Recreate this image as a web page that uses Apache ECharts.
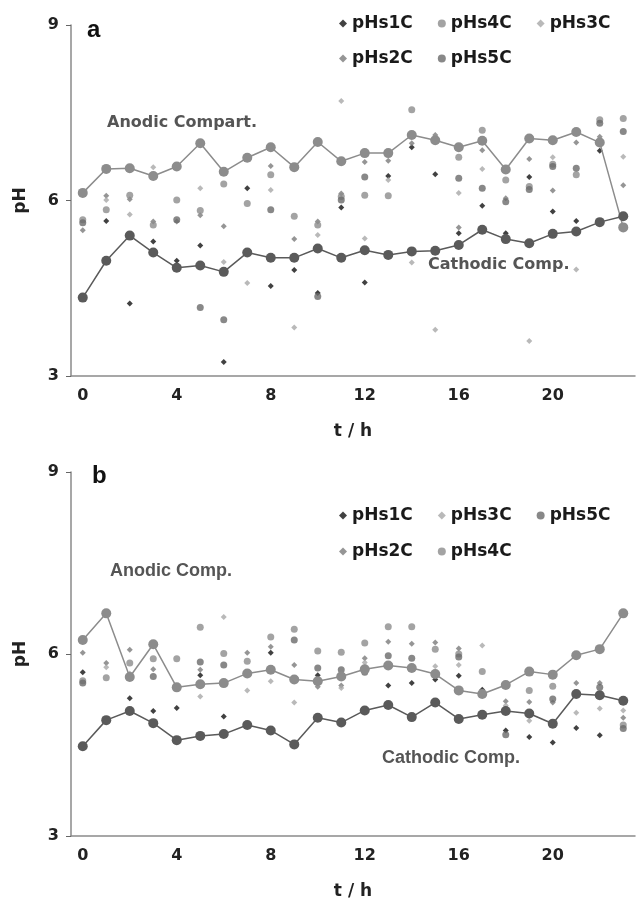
<!DOCTYPE html>
<html>
<head>
<meta charset="utf-8">
<script src="https://cdn.jsdelivr.net/npm/echarts@6/dist/echarts.min.js"></script>
<style>
html,body{margin:0;padding:0;background:#fff;}
#c{width:637px;height:901px;}
</style>
</head>
<body>
<div id="c"></div>
<script>
// ---------- DATA ----------
const hours = ['0','1','2','3','4','5','6','7','8','9','10','11','12','13','14','15','16','17','18','19','20','21','22','23'];
const yTicks = [3, 6, 9];

// Panel a
const a_anodic   = [6.13,6.54,6.55,6.42,6.58,6.98,6.49,6.73,6.91,6.57,7.00,6.67,6.81,6.81,7.12,7.03,6.91,7.02,6.53,7.06,7.03,7.17,6.99,5.54];
const a_cathodic = [4.34,4.97,5.40,5.11,4.85,4.89,4.78,5.11,5.02,5.02,5.18,5.02,5.15,5.07,5.13,5.14,5.24,5.50,5.34,5.27,5.43,5.47,5.63,5.73];
const a_pHs1C = [null,5.65,4.24,5.30,4.97,5.23,3.24,6.21,4.54,4.81,4.42,5.88,4.60,6.42,6.91,6.45,5.44,5.91,5.44,6.40,5.81,5.65,6.85,null];
const a_pHs2C = [5.49,6.08,6.02,5.64,5.64,5.75,5.56,null,6.59,5.34,5.64,6.12,6.66,6.68,6.98,7.12,5.54,6.86,6.04,6.71,6.17,6.99,7.09,6.26];
const a_pHs3C = [null,6.01,5.76,6.57,null,6.21,4.95,4.59,6.18,3.83,5.41,7.70,5.35,6.35,4.94,3.79,6.13,6.54,null,3.60,6.74,4.82,null,6.75];
const a_pHs4C = [5.67,5.84,6.09,5.58,6.01,5.83,6.28,5.95,6.44,5.73,5.58,6.07,6.09,6.08,7.55,null,6.74,7.20,6.35,6.24,6.62,6.44,7.38,7.40];
const a_pHs5C = [5.62,null,null,null,5.67,4.17,3.96,null,5.84,null,4.36,6.01,6.40,null,null,null,6.38,6.21,5.98,6.19,6.58,6.55,7.32,7.18];

// Panel b
const b_anodic   = [6.23,6.67,5.62,6.16,5.45,5.50,5.52,5.68,5.74,5.58,5.55,5.63,5.75,5.81,5.77,5.67,5.40,5.34,5.49,5.71,5.66,5.98,6.08,6.67];
const b_cathodic = [4.48,4.91,5.06,4.86,4.58,4.65,4.68,4.83,4.74,4.51,4.95,4.87,5.07,5.16,4.96,5.20,4.93,5.00,5.06,5.02,4.85,5.34,5.32,5.23];
const b_pHs1C = [5.70,null,5.27,5.06,5.11,5.65,4.97,null,6.02,null,5.65,null,null,5.48,5.52,5.58,5.64,5.41,4.74,4.63,4.54,4.78,4.66,null];
const b_pHs2C = [6.02,5.85,6.07,5.75,null,5.74,null,6.02,6.12,5.82,5.46,5.48,5.93,6.20,6.17,6.19,6.09,null,5.22,5.21,5.20,5.52,5.52,4.95];
const b_pHs3C = [null,5.78,5.68,null,null,5.30,6.61,5.40,5.55,5.20,null,5.44,5.86,null,null,5.80,5.82,6.14,5.15,4.90,null,5.03,5.10,5.07];
const b_pHs4C = [5.56,5.61,5.85,5.92,5.92,6.44,6.01,5.88,6.28,6.41,6.05,6.03,6.18,6.45,6.45,6.08,6.00,5.71,null,5.40,5.47,null,null,4.83];
const b_pHs5C = [5.52,null,null,5.63,null,5.87,5.82,null,null,6.23,5.77,5.74,5.70,5.97,5.93,null,5.95,null,4.67,null,5.26,null,5.45,4.77];

// ---------- STYLE ----------
const FONT = 'DejaVu Sans';
const styles = {
  pHs1C: {symbol:'diamond', size:6, color:'#111111'},
  pHs2C: {symbol:'diamond', size:6, color:'#7a7a7a'},
  pHs3C: {symbol:'diamond', size:6, color:'#a8a8a8'},
  pHs4C: {symbol:'circle',  size:7, color:'#8c8c8c'},
  pHs5C: {symbol:'circle',  size:7, color:'#6a6a6a'}
};

function scatter(name, data, idx){
  const s = styles[name];
  return {
    name, type:'scatter', xAxisIndex:idx, yAxisIndex:idx, data,
    symbol:s.symbol, symbolSize:s.size, itemStyle:{color:s.color}, z:3
  };
}
function line(name, data, idx, color){
  return {
    name, type:'line', xAxisIndex:idx, yAxisIndex:idx, data,
    symbol:'circle', symbolSize:10, showAllSymbol:true,
    lineStyle:{color, width:1.5}, itemStyle:{color}, z:4
  };
}
function xAxis(idx, nameGap){
  return {
    type:'category', gridIndex:idx, data:hours, boundaryGap:true,
    name:'t / h', nameLocation:'middle', nameGap,
    nameTextStyle:{fontFamily:FONT, fontWeight:'bold', fontSize:17, color:'#222'},
    axisLine:{lineStyle:{color:'#8a8a8a', width:1.5}},
    axisTick:{interval:3, length:5, lineStyle:{color:'#666'}},
    axisLabel:{interval:3, fontFamily:FONT, fontWeight:'bold', fontSize:16, color:'#222', margin:12},
    splitLine:{show:false}
  };
}
function yAxis(idx){
  return {
    type:'value', gridIndex:idx, min:yTicks[0], max:yTicks[yTicks.length-1], interval:3,
    name:'pH', nameLocation:'middle', nameGap:42, nameRotate:90,
    nameTextStyle:{fontFamily:FONT, fontWeight:'bold', fontSize:17, color:'#222'},
    axisLine:{show:true, lineStyle:{color:'#8a8a8a', width:1.5}},
    axisTick:{show:true, length:5, lineStyle:{color:'#666'}},
    axisLabel:{fontFamily:FONT, fontWeight:'bold', fontSize:16, color:'#222', margin:12},
    splitLine:{show:false}
  };
}
function legend(names, left, top){
  return {
    data: names.map(n => ({name:n, icon: styles[n].symbol})),
    left, top, orient:'horizontal', itemWidth:8, itemHeight:8, itemGap:25,
    textStyle:{fontFamily:FONT, fontWeight:'bold', fontSize:17, color:'#1a1a1a'},
    selectedMode:false
  };
}
function label(text, x, y, size, family){
  return {type:'text', left:x, top:y, silent:true,
    style:{text, fontFamily:family||FONT, fontWeight:'bold', fontSize:size, fill:'#555'}};
}

const chart = echarts.init(document.getElementById('c'), null, {renderer:'canvas'});
chart.setOption({
  backgroundColor:'#fff',
  animation:false,
  grid:[
    {left:71, top:25, width:564, height:351},
    {left:71, top:472, width:564, height:366}
  ],
  xAxis:[xAxis(0, 47), xAxis(1, 47)],
  yAxis:[yAxis(0), yAxis(1)],
  legend:[
    legend(['pHs1C','pHs4C','pHs3C'], 334, 10),
    legend(['pHs2C','pHs5C'], 334, 45),
    legend(['pHs1C','pHs3C','pHs5C'], 334, 502),
    legend(['pHs2C','pHs4C'], 334, 538)
  ],
  graphic:[
    {type:'text', left:87, top:18, silent:true, style:{text:'a', fontFamily:'Liberation Sans', fontWeight:'bold', fontSize:24, fill:'#111'}},
    {type:'text', left:92, top:464, silent:true, style:{text:'b', fontFamily:'Liberation Sans', fontWeight:'bold', fontSize:24, fill:'#111'}},
    label('Anodic Compart.', 107, 115, 16),
    label('Cathodic Comp.', 428, 257, 16),
    label('Anodic Comp.', 110, 562, 18, 'Liberation Sans'),
    label('Cathodic Comp.', 382, 749, 18, 'Liberation Sans')
  ],
  series:[
    scatter('pHs1C', a_pHs1C, 0), scatter('pHs2C', a_pHs2C, 0), scatter('pHs3C', a_pHs3C, 0),
    scatter('pHs4C', a_pHs4C, 0), scatter('pHs5C', a_pHs5C, 0),
    line('Anodic', a_anodic, 0, '#8c8c8c'), line('Cathodic', a_cathodic, 0, '#5a5a5a'),
    scatter('pHs1C', b_pHs1C, 1), scatter('pHs2C', b_pHs2C, 1), scatter('pHs3C', b_pHs3C, 1),
    scatter('pHs4C', b_pHs4C, 1), scatter('pHs5C', b_pHs5C, 1),
    line('Anodic', b_anodic, 1, '#8c8c8c'), line('Cathodic', b_cathodic, 1, '#5a5a5a')
  ]
});
</script>
</body>
</html>
